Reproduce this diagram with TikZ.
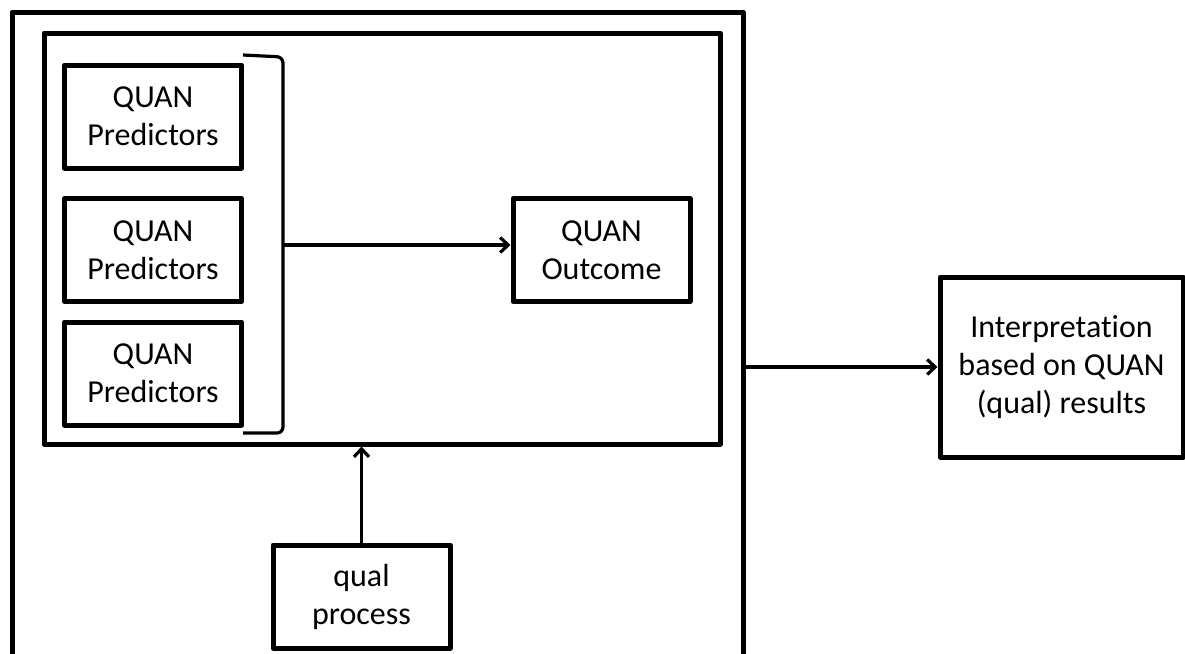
\documentclass[tikz,border=0pt]{standalone}
\usepackage{fontspec}
\setmainfont{Carlito}[Ligatures=NoCommon]
\usetikzlibrary{arrows.meta}
\tikzset{
  box/.style={draw,line width=5pt,line join=round,align=center,inner sep=0pt,
    minimum width=177pt,minimum height=103pt,font=\fontsize{32}{38}\selectfont},
  link/.style={line width=3.2pt,-{Straight Barb[length=8pt,width=15pt]}}
}
\begin{document}
\begin{tikzpicture}[x=1pt,y=-1pt]
\useasboundingbox (0,0) rectangle (1185,653);
\clip (0,0) rectangle (1185,653);
% outer frame, open at the bottom
\draw[line width=5pt,line join=round] (12,670) -- (12,12) -- (743,12) -- (743,670);
\coordinate (outerR) at (743,367);
% inner frame
\node[draw,line width=5pt,line join=round,minimum width=676pt,minimum height=411pt] (inner) at (382,238.5) {};
% predictors
\node[box] (pred1) at (153,116.5) {QUAN\\Predictors};
\node[box] (pred2) at (153,250) {QUAN\\Predictors};
\node[box] (pred3) at (153,373.5) {QUAN\\Predictors};
\draw[line width=3.2pt,rounded corners=6pt] (243,55) -- (283,57) -- (283,433) -- (243,433);
\coordinate (brk) at (283,245);
\node[box] (outcome) at (601.5,250) {QUAN\\Outcome};
\draw[link] (brk) -- (brk -| outcome.west);
% qual strand
\node[box] (qual) at (361.5,596.5) {qual\\process};
\draw[link] (qual.north) -- (qual.north |- inner.south);
% interpretation
\node[box,minimum width=243pt,minimum height=180pt] (interp) at (1061.5,367) {Interpretation\\based on QUAN\\(qual) results};
\draw[link] (outerR) -- (interp.west);
\end{tikzpicture}
\end{document}
